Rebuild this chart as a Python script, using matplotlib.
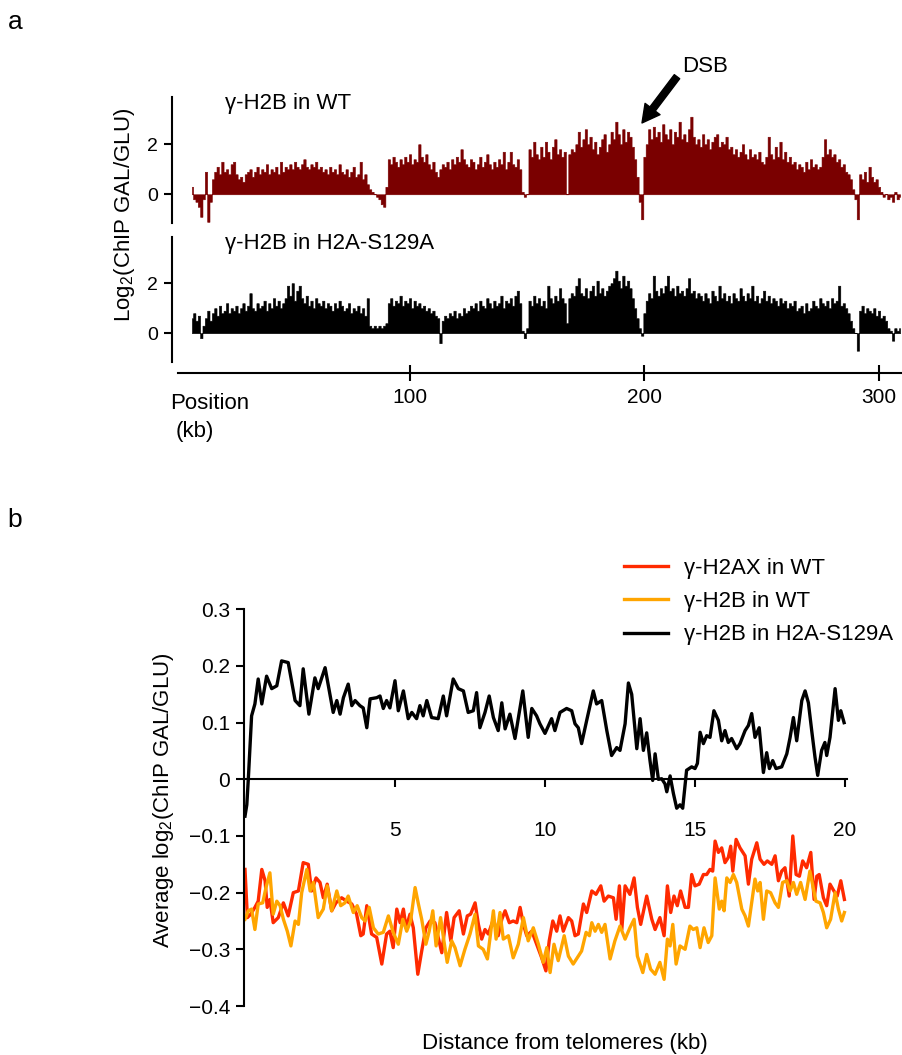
import numpy as np
import matplotlib
matplotlib.use('Agg')
import matplotlib.pyplot as plt
from matplotlib.ticker import FuncFormatter

# ── Style ──────────────────────────────────────────────────────────────────────
plt.rcParams.update({
    'font.family':      ['Liberation Sans', 'DejaVu Sans'],
    'font.size':        16,
    'mathtext.fontset': 'custom',
    'mathtext.rm':      'Liberation Sans',
    'mathtext.it':      'Liberation Sans:italic',
    'axes.linewidth':   1.5,
})

DARK_RED = '#7a0000'
RED = '#ff2a00'
ORANGE = '#ffa500'

# ── Data: panel a, log2(ChIP GAL/GLU) per 1 kb bin, starting at 7 kb ──────────
start_kb = 7
wt_log2 = [
    0.3, -0.2, -0.3, -0.5, -0.9, -0.2, 0.9, -1.1, -0.3, 0.6,
    0.9, 1.1, 0.8, 1.3, 0.9, 1.0, 0.8, 1.2, 1.3, 0.8,
    0.6, 0.7, 0.5, 0.8, 0.9, 1.0, 0.7, 0.9, 1.1, 0.8,
    1.0, 0.9, 1.2, 0.8, 1.0, 0.9, 1.1, 0.8, 1.3, 0.9,
    1.1, 1.0, 1.2, 1.0, 1.3, 1.1, 1.0, 1.2, 1.4, 1.1,
    1.0, 1.2, 1.1, 1.3, 1.0, 1.1, 0.9, 1.0, 0.8, 1.1,
    0.9, 1.0, 0.8, 1.2, 0.9, 0.8, 1.0, 0.7, 0.9, 1.1,
    0.7, 0.8, 1.3, 0.6, 0.8, 0.4, 0.2, 0.1, 0.0, -0.1,
    -0.2, -0.4, -0.5, 0.3, 1.4, 1.2, 1.5, 1.3, 1.1, 1.4,
    1.2, 1.5, 1.3, 1.6, 1.2, 1.4, 1.3, 2.0, 1.5, 1.3,
    1.6, 1.2, 1.0, 1.3, 0.9, 0.7, 1.0, 1.2, 1.1, 1.3,
    1.0, 1.4, 1.2, 1.5, 1.3, 1.8, 1.4, 1.2, 1.1, 1.4,
    1.3, 1.0, 1.2, 1.5, 1.1, 1.3, 1.6, 1.2, 1.0, 1.3,
    1.1, 1.4, 1.2, 1.7, 1.0, 1.3, 1.7, 1.2, 1.1, 1.4,
    1.0, 0.1, -0.1, 0.0, 1.8, 1.5, 2.1, 1.6, 1.4, 1.9,
    1.5, 2.1, 1.7, 1.4, 1.9, 2.2, 1.6, 1.8, 1.5, 1.7,
    0.0, 1.6, 1.8, 1.7, 2.0, 2.5, 1.9, 2.2, 2.6, 2.0,
    2.3, 1.8, 2.1, 1.6, 1.9, 2.2, 2.4, 1.7, 2.0, 2.5,
    2.2, 2.9, 2.4, 2.0, 2.6, 2.1, 2.5, 2.3, 1.9, 1.4,
    0.7, -0.3, -1.0, 1.5, 2.0, 2.6, 2.2, 2.7, 2.3, 2.5,
    2.1, 2.8, 2.4, 2.2, 2.6, 2.0, 2.5, 2.3, 2.9, 2.2,
    2.4, 2.1, 2.6, 3.1, 2.3, 2.0, 2.2, 1.9, 2.4, 2.0,
    2.2, 1.8, 2.1, 2.3, 2.4, 1.9, 2.1, 2.0, 2.3, 1.8,
    1.9, 1.6, 1.8, 1.5, 1.7, 2.0, 1.6, 1.4, 1.8, 1.5,
    1.6, 1.4, 1.7, 1.3, 1.2, 1.5, 2.3, 1.6, 1.4, 1.9,
    1.5, 2.1, 1.4, 1.7, 1.3, 1.5, 1.2, 1.3, 1.0, 1.2,
    1.1, 0.9, 1.3, 1.0, 1.4, 1.1, 1.2, 1.0, 1.1, 1.5,
    2.2, 1.6, 1.8, 1.5, 1.6, 1.3, 1.4, 1.1, 1.2, 0.9,
    0.8, 0.6, 0.2, -0.2, -1.0, 0.8, 0.6, 0.9, 0.5, 1.1,
    0.7, 0.5, 0.6, 0.3, 0.1, -0.1, 0.0, -0.2, -0.1, -0.3,
    0.1, -0.2, -0.1,
]
s129a_log2 = [
    0.6, 0.8, 0.5, 0.7, -0.2, 0.3, 0.6, 0.9, 0.5, 0.8,
    1.0, 0.7, 1.1, 0.8, 0.9, 1.2, 0.8, 1.0, 0.9, 1.1,
    0.8, 1.0, 1.2, 0.9, 1.1, 1.6, 1.0, 0.9, 1.2, 1.0,
    1.1, 1.3, 0.9, 1.2, 1.0, 1.4, 1.1, 1.3, 1.0, 1.2,
    1.4, 1.9, 1.5, 2.0, 1.3, 1.7, 1.9, 1.4, 1.2, 1.5,
    1.1, 1.3, 1.0, 1.4, 1.2, 1.1, 1.3, 1.0, 1.2, 1.1,
    0.9, 1.2, 1.0, 1.3, 1.1, 0.9, 1.0, 1.2, 0.8, 1.0,
    0.9, 1.1, 0.8, 1.0, 0.7, 1.4, 0.3, 0.2, 0.3, 0.2,
    0.3, 0.2, 0.3, 0.4, 1.2, 1.4, 1.1, 1.3, 1.2, 1.5,
    1.1, 1.3, 1.2, 1.4, 1.0, 1.3, 1.1, 1.2, 1.0, 1.1,
    0.9, 1.0, 0.8, 0.9, 0.7, 0.6, -0.4, 0.5, 0.7, 0.6,
    0.8, 0.7, 0.9, 0.6, 0.8, 0.7, 1.0, 0.8, 0.9, 1.1,
    1.0, 1.2, 0.9, 1.3, 1.1, 1.0, 1.4, 1.2, 1.0, 1.3,
    1.1, 1.2, 1.5, 1.0, 1.3, 1.2, 1.4, 1.1, 1.5, 1.7,
    1.2, 0.1, -0.2, 0.2, 1.3, 1.1, 1.5, 1.2, 1.4, 1.1,
    1.3, 1.0, 1.9, 1.4, 1.2, 1.5, 1.3, 1.8, 1.4, 1.2,
    0.4, 1.4, 1.6, 1.5, 1.9, 2.2, 1.6, 1.5, 1.8, 1.4,
    1.7, 1.9, 1.5, 2.1, 1.6, 1.8, 1.5, 1.7, 1.9, 2.0,
    2.2, 2.5, 2.1, 1.8, 2.3, 1.9, 2.1, 1.8, 1.4, 1.0,
    0.6, 0.2, -0.1, 0.8, 1.3, 1.6, 1.4, 2.3, 1.7, 1.5,
    1.8, 1.6, 1.9, 2.3, 1.7, 1.8, 1.5, 1.9, 1.6, 1.7,
    1.5, 1.8, 2.2, 1.6, 1.7, 1.4, 1.6, 1.5, 1.3, 1.6,
    1.4, 1.2, 1.7, 1.5, 1.3, 1.9, 1.4, 1.6, 1.3, 1.5,
    1.2, 1.6, 1.4, 1.3, 1.8, 1.5, 1.3, 1.6, 1.4, 1.9,
    1.3, 1.5, 1.2, 1.4, 1.7, 1.3, 1.5, 1.2, 1.4, 1.3,
    1.1, 1.4, 1.2, 1.3, 1.0, 1.2, 1.1, 1.3, 0.9, 1.0,
    1.1, 0.8, 1.2, 0.9, 1.0, 1.3, 1.1, 1.0, 1.4, 1.2,
    1.1, 1.3, 1.0, 1.4, 1.2, 1.3, 1.9, 1.1, 1.2, 1.0,
    0.8, 0.5, 0.2, 0.0, -0.7, 0.9, 1.1, 0.8, 1.0, 0.9,
    0.8, 1.0, 0.7, 0.9, 0.6, 0.7, 0.5, 0.2, 0.1, -0.3,
    0.2, 0.1, 0.2,
]
pos_ticks = [100, 200, 300]

# ── Data: panel b, average log2 vs distance from telomeres (kb, value) ────────
h2ax_wt = [
    (0.00, -0.159), (0.08, -0.244), (0.19, -0.238), (0.33, -0.226), (0.44, -0.215),
    (0.56, -0.159), (0.67, -0.179), (0.74, -0.226), (0.83, -0.212), (0.94, -0.253),
    (1.11, -0.244), (1.28, -0.218), (1.44, -0.241), (1.61, -0.200), (1.78, -0.197),
    (1.94, -0.147), (2.11, -0.150), (2.22, -0.197), (2.37, -0.174), (2.50, -0.182),
    (2.61, -0.209), (2.74, -0.185), (2.89, -0.232), (3.03, -0.218), (3.22, -0.209),
    (3.39, -0.215), (3.56, -0.220), (3.72, -0.238), (3.86, -0.276), (3.94, -0.273),
    (4.06, -0.223), (4.22, -0.273), (4.39, -0.279), (4.56, -0.326), (4.72, -0.273),
    (4.83, -0.268), (4.94, -0.297), (5.06, -0.229), (5.17, -0.253), (5.28, -0.229),
    (5.37, -0.262), (5.50, -0.238), (5.61, -0.262), (5.76, -0.344), (5.89, -0.303),
    (6.03, -0.262), (6.17, -0.250), (6.33, -0.253), (6.44, -0.279), (6.56, -0.306),
    (6.72, -0.235), (6.86, -0.285), (6.97, -0.244), (7.14, -0.232), (7.28, -0.273),
    (7.41, -0.241), (7.52, -0.238), (7.67, -0.218), (7.78, -0.256), (7.89, -0.282),
    (8.00, -0.265), (8.11, -0.273), (8.28, -0.247), (8.44, -0.276), (8.56, -0.247),
    (8.67, -0.232), (8.81, -0.253), (8.94, -0.250), (9.06, -0.253), (9.17, -0.226),
    (9.28, -0.256), (9.39, -0.276), (9.56, -0.268), (9.72, -0.291), (9.89, -0.315),
    (10.03, -0.338), (10.14, -0.285), (10.26, -0.250), (10.39, -0.268), (10.50, -0.241),
    (10.61, -0.268), (10.78, -0.244), (10.89, -0.250), (11.00, -0.276), (11.11, -0.273),
    (11.28, -0.220), (11.39, -0.235), (11.56, -0.197), (11.70, -0.203), (11.86, -0.188),
    (11.97, -0.215), (12.11, -0.206), (12.28, -0.209), (12.37, -0.247), (12.48, -0.188),
    (12.56, -0.265), (12.67, -0.188), (12.83, -0.203), (12.97, -0.174), (13.08, -0.226),
    (13.19, -0.256), (13.39, -0.206), (13.56, -0.247), (13.67, -0.265), (13.83, -0.244),
    (13.97, -0.276), (14.08, -0.188), (14.19, -0.235), (14.30, -0.206), (14.41, -0.223),
    (14.52, -0.197), (14.67, -0.226), (14.78, -0.226), (14.89, -0.168), (15.00, -0.188),
    (15.14, -0.185), (15.28, -0.168), (15.39, -0.168), (15.50, -0.159), (15.59, -0.162),
    (15.67, -0.109), (15.78, -0.129), (15.89, -0.121), (16.00, -0.147), (16.11, -0.138),
    (16.19, -0.118), (16.26, -0.162), (16.37, -0.106), (16.50, -0.121), (16.67, -0.135),
    (16.78, -0.185), (16.89, -0.141), (17.06, -0.112), (17.17, -0.141), (17.30, -0.150),
    (17.41, -0.144), (17.56, -0.150), (17.67, -0.135), (17.78, -0.179), (17.89, -0.162),
    (18.00, -0.156), (18.14, -0.206), (18.26, -0.100), (18.37, -0.168), (18.48, -0.171),
    (18.59, -0.144), (18.72, -0.156), (18.86, -0.129), (18.97, -0.212), (19.06, -0.171),
    (19.14, -0.168), (19.28, -0.209), (19.39, -0.223), (19.50, -0.185), (19.63, -0.197),
    (19.74, -0.206), (19.86, -0.179), (19.98, -0.212),
]
h2b_wt = [
    (0.00, -0.247), (0.11, -0.232), (0.22, -0.229), (0.33, -0.265), (0.44, -0.220),
    (0.59, -0.218), (0.70, -0.191), (0.83, -0.165), (0.94, -0.238), (1.06, -0.215),
    (1.17, -0.223), (1.28, -0.247), (1.41, -0.268), (1.53, -0.294), (1.67, -0.250),
    (1.78, -0.256), (1.89, -0.200), (2.06, -0.159), (2.17, -0.197), (2.28, -0.182),
    (2.44, -0.244), (2.61, -0.229), (2.74, -0.188), (2.89, -0.232), (3.06, -0.197),
    (3.19, -0.223), (3.33, -0.218), (3.44, -0.206), (3.61, -0.235), (3.74, -0.223),
    (3.89, -0.244), (4.00, -0.250), (4.14, -0.226), (4.28, -0.262), (4.44, -0.273),
    (4.61, -0.270), (4.78, -0.241), (4.94, -0.270), (5.11, -0.291), (5.26, -0.247),
    (5.39, -0.268), (5.52, -0.250), (5.67, -0.191), (5.78, -0.220), (5.89, -0.247),
    (6.03, -0.291), (6.14, -0.268), (6.26, -0.232), (6.37, -0.294), (6.52, -0.244),
    (6.63, -0.285), (6.74, -0.323), (6.89, -0.285), (7.00, -0.297), (7.17, -0.329),
    (7.33, -0.300), (7.50, -0.273), (7.67, -0.238), (7.78, -0.294), (7.94, -0.300),
    (8.08, -0.317), (8.28, -0.232), (8.37, -0.282), (8.50, -0.235), (8.61, -0.282),
    (8.78, -0.276), (8.94, -0.315), (9.11, -0.291), (9.28, -0.244), (9.44, -0.285),
    (9.61, -0.262), (9.78, -0.291), (9.94, -0.323), (10.06, -0.297), (10.17, -0.341),
    (10.30, -0.291), (10.44, -0.320), (10.64, -0.276), (10.78, -0.312), (10.94, -0.326),
    (11.11, -0.312), (11.22, -0.303), (11.37, -0.270), (11.48, -0.276), (11.56, -0.253),
    (11.67, -0.268), (11.78, -0.256), (11.89, -0.270), (12.00, -0.256), (12.17, -0.317),
    (12.33, -0.285), (12.50, -0.259), (12.67, -0.282), (12.83, -0.262), (12.97, -0.247),
    (13.08, -0.312), (13.26, -0.341), (13.39, -0.309), (13.52, -0.335), (13.67, -0.344),
    (13.83, -0.323), (13.97, -0.353), (14.08, -0.282), (14.17, -0.294), (14.26, -0.256),
    (14.37, -0.326), (14.50, -0.294), (14.67, -0.300), (14.83, -0.259), (14.94, -0.265),
    (15.06, -0.262), (15.17, -0.297), (15.30, -0.262), (15.44, -0.288), (15.56, -0.276),
    (15.67, -0.174), (15.81, -0.229), (15.89, -0.215), (15.97, -0.232), (16.06, -0.174),
    (16.17, -0.182), (16.28, -0.168), (16.39, -0.182), (16.56, -0.229), (16.67, -0.241),
    (16.78, -0.259), (16.89, -0.218), (17.00, -0.176), (17.09, -0.197), (17.17, -0.182),
    (17.28, -0.247), (17.39, -0.197), (17.52, -0.200), (17.67, -0.218), (17.78, -0.226),
    (17.92, -0.182), (18.06, -0.179), (18.17, -0.197), (18.28, -0.182), (18.39, -0.203),
    (18.52, -0.182), (18.67, -0.212), (18.83, -0.162), (18.94, -0.191), (19.03, -0.215),
    (19.17, -0.218), (19.28, -0.235), (19.39, -0.262), (19.52, -0.247), (19.67, -0.200),
    (19.78, -0.229), (19.89, -0.250), (19.98, -0.235),
]
h2b_s129a = [
    (0.00, -0.065), (0.06, -0.045), (0.11, 0.000), (0.22, 0.112), (0.33, 0.133),
    (0.44, 0.177), (0.56, 0.133), (0.72, 0.182), (0.89, 0.160), (1.06, 0.165),
    (1.22, 0.209), (1.44, 0.206), (1.67, 0.139), (1.83, 0.130), (1.94, 0.195),
    (2.13, 0.115), (2.33, 0.179), (2.44, 0.160), (2.67, 0.197), (2.94, 0.118),
    (3.06, 0.139), (3.17, 0.115), (3.28, 0.144), (3.44, 0.168), (3.56, 0.130),
    (3.67, 0.139), (3.83, 0.130), (3.94, 0.126), (4.06, 0.091), (4.17, 0.142),
    (4.39, 0.144), (4.50, 0.147), (4.61, 0.125), (4.72, 0.139), (4.83, 0.126),
    (5.00, 0.174), (5.11, 0.121), (5.28, 0.156), (5.44, 0.107), (5.56, 0.118),
    (5.72, 0.107), (5.83, 0.130), (5.94, 0.112), (6.06, 0.139), (6.22, 0.109),
    (6.44, 0.107), (6.61, 0.147), (6.72, 0.112), (6.94, 0.177), (7.11, 0.160),
    (7.28, 0.156), (7.44, 0.118), (7.61, 0.121), (7.72, 0.153), (7.83, 0.091),
    (8.00, 0.118), (8.14, 0.147), (8.28, 0.109), (8.44, 0.086), (8.56, 0.135),
    (8.67, 0.089), (8.83, 0.115), (9.00, 0.072), (9.26, 0.156), (9.44, 0.074),
    (9.56, 0.125), (9.72, 0.112), (9.83, 0.098), (10.00, 0.081), (10.22, 0.107),
    (10.33, 0.086), (10.50, 0.118), (10.72, 0.125), (10.89, 0.121), (11.00, 0.098),
    (11.11, 0.091), (11.22, 0.063), (11.39, 0.104), (11.61, 0.156), (11.72, 0.133),
    (11.89, 0.139), (12.06, 0.086), (12.22, 0.042), (12.39, 0.056), (12.50, 0.051),
    (12.67, 0.098), (12.78, 0.170), (12.89, 0.150), (13.06, 0.054), (13.17, 0.107),
    (13.28, 0.051), (13.39, 0.082), (13.50, 0.033), (13.59, -0.002), (13.67, 0.045),
    (13.78, 0.000), (13.89, 0.001), (14.00, -0.008), (14.06, -0.022), (14.17, 0.006),
    (14.28, -0.025), (14.39, -0.051), (14.50, -0.045), (14.59, -0.051), (14.72, 0.016),
    (14.89, 0.022), (15.00, 0.019), (15.08, 0.028), (15.17, 0.083), (15.28, 0.063),
    (15.39, 0.077), (15.50, 0.074), (15.63, 0.121), (15.78, 0.104), (15.89, 0.068),
    (16.00, 0.086), (16.11, 0.065), (16.22, 0.072), (16.39, 0.054), (16.50, 0.063),
    (16.67, 0.086), (16.78, 0.095), (16.89, 0.116), (17.00, 0.074), (17.14, 0.091),
    (17.28, 0.012), (17.39, 0.047), (17.48, 0.019), (17.59, 0.033), (17.70, 0.019),
    (17.89, 0.022), (18.06, 0.045), (18.17, 0.074), (18.28, 0.109), (18.39, 0.068),
    (18.56, 0.139), (18.67, 0.156), (18.78, 0.135), (18.89, 0.086), (19.00, 0.039),
    (19.09, 0.007), (19.22, 0.051), (19.33, 0.065), (19.39, 0.042), (19.50, 0.074),
    (19.67, 0.160), (19.78, 0.104), (19.86, 0.121), (19.97, 0.100),
]
dist_ticks = [5, 10, 15, 20]
avg_ticks = [-0.4, -0.3, -0.2, -0.1, 0.0, 0.1, 0.2, 0.3]

# ── Figure (pixel-based layout) ───────────────────────────────────────────────
W, H = 903, 1055
fig = plt.figure(figsize=(W / 100, H / 100), dpi=100)


def px_axes(left, top, right, bottom):
    return fig.add_axes([left / W, 1 - bottom / H,
                         (right - left) / W, (bottom - top) / H])


# kb -> pixel mapping for panel a: 0 kb at x=175.5, 2.345 px per kb
KB0, PXKB = 175.5, 2.345


def kb_at(px):
    return (px - KB0) / PXKB


# ══════════════════════════════════════════════════════════════════════════════
# Panel a
# ══════════════════════════════════════════════════════════════════════════════
ax_wt = px_axes(172, 96.7, 903, 223.3)
ax_mu = px_axes(172, 236.7, 903, 361.7)

for ax, vals, color, label, ylim in [
    (ax_wt, wt_log2, DARK_RED, 'γ-H2B in WT', (-1.16, 3.9)),
    (ax_mu, s129a_log2, 'black', 'γ-H2B in H2A-S129A', (-1.14, 3.86)),
]:
    pos = start_kb + np.arange(len(vals))
    ax.fill_between(pos, 0, vals, step='mid', color=color, linewidth=0.4,
                    edgecolor=color)
    ax.set_xlim(kb_at(172), kb_at(903))
    ax.set_ylim(*ylim)
    for side in ('top', 'right', 'bottom'):
        ax.spines[side].set_visible(False)
    ax.spines['left'].set_linewidth(1.5)
    ax.set_xticks([])
    ax.set_yticks([0, 2])
    ax.tick_params(axis='y', length=6, width=1.5, pad=4, labelsize=14)
    ax.text(kb_at(225), ylim[1] - 0.27, label, ha='left', va='center', fontsize=16)
    ax.patch.set_visible(False)

# DSB arrow
ax_wt.annotate(
    '', xy=(kb_at(642), 2.85), xytext=(kb_at(677), 4.7),
    arrowprops=dict(arrowstyle='simple,head_length=0.7,head_width=0.75,tail_width=0.27',
                    color='black', mutation_scale=18, shrinkA=0, shrinkB=0),
    annotation_clip=False,
)
ax_wt.text(kb_at(705.5), 5.11, 'DSB', ha='center', va='center', fontsize=16,
           clip_on=False)

# shared position axis
ax_pos = px_axes(178, 362, 903, 373)
ax_pos.set_xlim(kb_at(178), kb_at(903))
ax_pos.set_yticks([])
for side in ('top', 'right', 'left'):
    ax_pos.spines[side].set_visible(False)
ax_pos.spines['bottom'].set_linewidth(1.5)
ax_pos.set_xticks(pos_ticks)
ax_pos.tick_params(axis='x', direction='inout', length=12, width=1.5,
                   pad=5, labelsize=15)
ax_pos.patch.set_visible(False)

fig.text(170 / W, 1 - 403 / H, 'Position', ha='left', va='center', fontsize=16)
fig.text(176 / W, 1 - 431 / H, '(kb)', ha='left', va='center', fontsize=16)

fig.text(125 / W, 1 - 215 / H, 'Log$_2$(ChIP GAL/GLU)', rotation=90,
         ha='center', va='center', fontsize=16)

# ══════════════════════════════════════════════════════════════════════════════
# Panel b
# ══════════════════════════════════════════════════════════════════════════════
ax_b = px_axes(244, 609.3, 847, 1006)

series = [
    (h2ax_wt, RED, 'γ-H2AX in WT'),
    (h2b_wt, ORANGE, 'γ-H2B in WT'),
    (h2b_s129a, 'black', 'γ-H2B in H2A-S129A'),
]
handles = []
for pts, color, label in series:
    kb, val = zip(*pts)
    line, = ax_b.plot(kb, val, color=color, lw=2.4, label=label,
                      solid_joinstyle='round')
    handles.append(line)

ax_b.set_xlim((244 - 245) / 30, (847 - 245) / 30)
ax_b.set_ylim(-0.4, 0.3)
ax_b.spines['top'].set_visible(False)
ax_b.spines['right'].set_visible(False)
ax_b.spines['bottom'].set_position(('data', 0))
ax_b.spines['left'].set_linewidth(1.5)
ax_b.spines['bottom'].set_linewidth(1.5)
ax_b.set_xticks(dist_ticks)
ax_b.set_yticks(avg_ticks)
ax_b.yaxis.set_major_formatter(FuncFormatter(
    lambda v, _: '0' if abs(v) < 1e-9 else f'{v:.1f}'.replace('-', '\u2212')))
ax_b.tick_params(axis='y', length=6, width=1.5, pad=4, labelsize=15)
ax_b.tick_params(axis='x', length=6, width=1.5, pad=24, labelsize=15)
ax_b.patch.set_visible(False)

ax_b.legend(
    handles=handles, loc='upper left', frameon=False, fontsize=16,
    bbox_to_anchor=(624 / W, 1 - 558 / H), bbox_transform=fig.transFigure,
    borderpad=0, borderaxespad=0, handlelength=2.0, handletextpad=0.7,
    labelspacing=0.55,
)

fig.text(565 / W, 1 - 1043 / H, 'Distance from telomeres (kb)',
         ha='center', va='center', fontsize=16)
fig.text(163 / W, 1 - 800 / H, 'Average log$_2$(ChIP GAL/GLU)', rotation=90,
         ha='center', va='center', fontsize=16)

# panel letters
fig.text(15 / W, 1 - 22 / H, 'a', ha='center', va='center', fontsize=19)
fig.text(15 / W, 1 - 520 / H, 'b', ha='center', va='center', fontsize=19)

fig.savefig('out.png', dpi=100, facecolor='white')
plt.close(fig)
